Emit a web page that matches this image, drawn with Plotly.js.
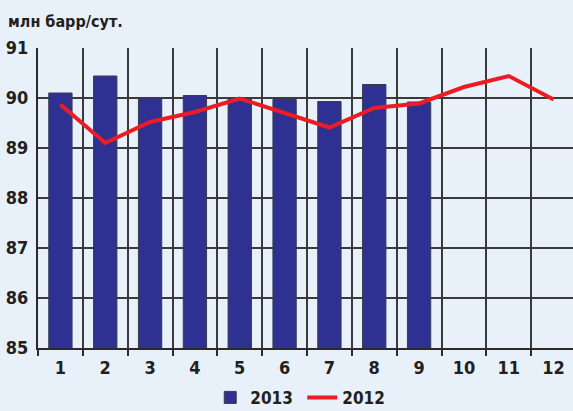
<!DOCTYPE html>
<html><head><meta charset="utf-8">
<script src="https://cdn.plot.ly/plotly-3.0.1.min.js"></script>
<style>html,body{margin:0;padding:0;overflow:hidden;background:#e8f1f9;}</style>
</head><body>
<div id="chart"></div>
<script>
const months = [1,2,3,4,5,6,7,8,9,10,11,12];
const tickLabels = ['1','2','3','4','5','6','7','8','9','10','11','12'];
const months2013 = [1,2,3,4,5,6,7,8,9];
const values2013 = [90.1,90.44,90.0,90.05,89.99,89.97,89.93,90.27,89.92];
const values2012 = [89.87,89.1,89.52,89.72,89.99,89.71,89.41,89.8,89.89,90.22,90.44,89.97];

const fontFam = '"Liberation Sans Narrow","DejaVu Sans Condensed",Arial,sans-serif';
const bg = '#e8f1f9';
const txt = '#231f20';

const traces = [
  {type:'bar', x:months2013, y:values2013, name:'2013', width:0.52,
   marker:{color:'#2e3192', line:{color:'#3a3a4a', width:1}}},
  {type:'scatter', mode:'lines', x:months, y:values2012, name:'2012',
   line:{color:'#ed1c24', width:4}}
];

const layout = {
  width:576, height:411,
  margin:{l:37.6, r:0, t:47.7, b:63.3},
  paper_bgcolor:bg, plot_bgcolor:bg,
  font:{family:fontFam, size:18, color:txt, weight:'bold'},
  title:{text:'<b>млн барр/сут.</b>', x:0.014, xanchor:'left', y:0.947, yanchor:'middle',
         font:{family:fontFam, size:16, color:txt}},
  showlegend:true,
  legend:{orientation:'h', xref:'container', yref:'container', x:0.365, xanchor:'left',
          y:0.032, yanchor:'middle',
          font:{family:fontFam, size:17, color:txt, weight:'bold'},
          bgcolor:'rgba(0,0,0,0)', entrywidth:47, entrywidthmode:'pixels', traceorder:'normal'},
  xaxis:{range:[0.5,12.5], tickvals:months, ticktext:tickLabels, showgrid:false, zeroline:false,
         automargin:false,
         ticks:'', showline:true, linecolor:'#2b2b2b', linewidth:2, ticklabelstandoff:2,
         tickfont:{family:fontFam, size:18, color:txt, weight:'bold'},
         minor:{tick0:0.5, dtick:1, showgrid:true, gridcolor:'#3a3a3a', gridwidth:2,
                ticks:'outside', ticklen:6, tickcolor:'#2b2b2b', tickwidth:2}},
  yaxis:{range:[85,91], dtick:1, showgrid:true, gridcolor:'#3a3a3a', gridwidth:2,
         automargin:false,
         zeroline:false, showline:true, linecolor:'#2b2b2b', linewidth:2, ticks:'',
         ticklabelstandoff:4,
         tickfont:{family:fontFam, size:18, color:txt, weight:'bold'}},
  bargap:0.48
};

Plotly.newPlot('chart', traces, layout, {displayModeBar:false, staticPlot:true});
</script>
</body></html>
